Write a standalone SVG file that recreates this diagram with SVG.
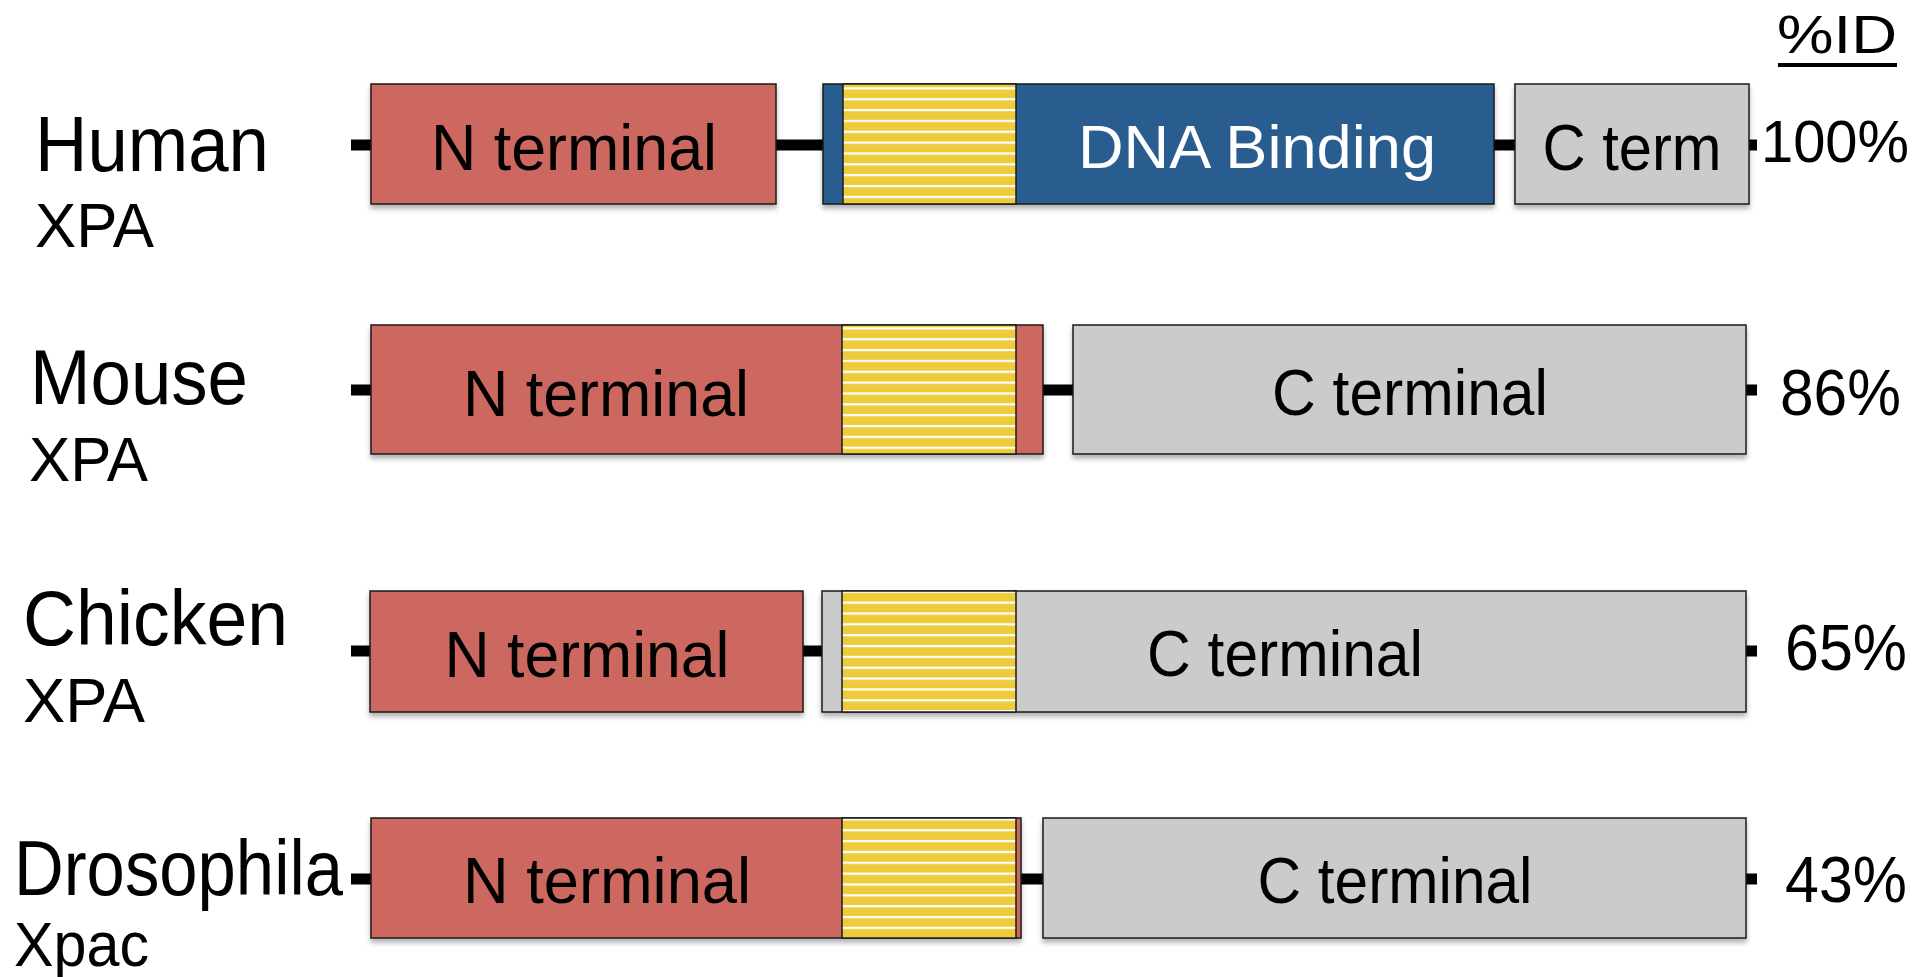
<svg xmlns="http://www.w3.org/2000/svg" width="1920" height="977" viewBox="0 0 1920 977">
<style>
text{font-family:"Liberation Sans",Arial,Helvetica,sans-serif;fill:#000}
.box{stroke:#1a1a1a;stroke-width:1.5}
.red{fill:#CD6761}
.blue{fill:#295D8F}
.gray{fill:#CBCBCB}
.lbl{font-size:65px}
.sp{font-size:77px}
.sub{font-size:63px}
.pct{font-size:64px}
.bb{stroke:#000;stroke-width:11}
</style>
<defs>
<filter id="sh" x="-5%" y="-10%" width="110%" height="130%">
<feDropShadow dx="0" dy="4" stdDeviation="2.5" flood-color="#000" flood-opacity="0.3"/>
</filter>
<pattern id="st1" patternUnits="userSpaceOnUse" x="0" y="87.3" width="20" height="10.85"><rect width="20" height="10.85" fill="#EDCB3B"/><rect width="20" height="2.2" fill="#fff"/></pattern>
<pattern id="st2" patternUnits="userSpaceOnUse" x="0" y="327.3" width="20" height="10.85"><rect width="20" height="10.85" fill="#EDCB3B"/><rect width="20" height="2.2" fill="#fff"/></pattern>
<pattern id="st3" patternUnits="userSpaceOnUse" x="0" y="590.7" width="20" height="10.85"><rect width="20" height="10.85" fill="#EDCB3B"/><rect width="20" height="2.2" fill="#fff"/></pattern>
<pattern id="st4" patternUnits="userSpaceOnUse" x="0" y="818.3" width="20" height="10.85"><rect width="20" height="10.85" fill="#EDCB3B"/><rect width="20" height="2.2" fill="#fff"/></pattern>
</defs>

<g id="connectors">
<line class="bb" x1="351" y1="145" x2="1757" y2="145"/>
<line class="bb" x1="351" y1="390" x2="1757" y2="390"/>
<line class="bb" x1="351" y1="651" x2="1757" y2="651"/>
<line class="bb" x1="351" y1="879" x2="1757" y2="879"/>
</g>

<g id="header">
<text x="1777" y="53" font-size="54" textLength="120" lengthAdjust="spacingAndGlyphs">%ID</text>
<rect x="1778" y="63" width="119" height="4" fill="#000"/>
</g>

<!-- Row 1: Human -->
<g id="human-label">
<text class="sp" x="35" y="171" textLength="234" lengthAdjust="spacingAndGlyphs">Human</text>
<text class="sub" x="35" y="247" textLength="119" lengthAdjust="spacingAndGlyphs">XPA</text>
</g>
<g id="human-nterm">
<rect class="box red" x="371" y="84" width="405" height="120" filter="url(#sh)"/>
<text class="lbl" x="574" y="170" text-anchor="middle" textLength="286" lengthAdjust="spacingAndGlyphs">N terminal</text>
</g>
<g id="human-dna">
<rect class="box blue" x="823" y="84" width="671" height="120" filter="url(#sh)"/>
<rect class="box" x="843" y="84" width="173" height="120" fill="url(#st1)"/>
<text x="1257" y="168" font-size="61" style="fill:#fff" text-anchor="middle" textLength="358" lengthAdjust="spacingAndGlyphs">DNA Binding</text>
</g>
<g id="human-cterm">
<rect class="box gray" x="1515" y="84" width="234" height="120" filter="url(#sh)"/>
<text class="lbl" x="1632" y="170" text-anchor="middle" textLength="179" lengthAdjust="spacingAndGlyphs">C term</text>
</g>
<g id="human-pct">
<text x="1761" y="162" font-size="60" textLength="148" lengthAdjust="spacingAndGlyphs">100%</text>
</g>

<!-- Row 2: Mouse -->
<g id="mouse-label">
<text class="sp" x="30" y="404" textLength="218" lengthAdjust="spacingAndGlyphs">Mouse</text>
<text class="sub" x="29" y="481" textLength="119" lengthAdjust="spacingAndGlyphs">XPA</text>
</g>
<g id="mouse-nterm">
<rect class="box red" x="371" y="325" width="672" height="129" filter="url(#sh)"/>
<rect class="box" x="842" y="325" width="174" height="129" fill="url(#st2)"/>
<text class="lbl" x="606" y="416" text-anchor="middle" textLength="286" lengthAdjust="spacingAndGlyphs">N terminal</text>
</g>
<g id="mouse-cterm">
<rect class="box gray" x="1073" y="325" width="673" height="129" filter="url(#sh)"/>
<text class="lbl" x="1410" y="415" text-anchor="middle" textLength="276" lengthAdjust="spacingAndGlyphs">C terminal</text>
</g>
<g id="mouse-pct">
<text class="pct" x="1780" y="415" textLength="121" lengthAdjust="spacingAndGlyphs">86%</text>
</g>

<!-- Row 3: Chicken -->
<g id="chicken-label">
<text class="sp" x="23" y="645" textLength="265" lengthAdjust="spacingAndGlyphs">Chicken</text>
<text class="sub" x="23" y="722" textLength="122" lengthAdjust="spacingAndGlyphs">XPA</text>
</g>
<g id="chicken-nterm">
<rect class="box red" x="370" y="591" width="433" height="121" filter="url(#sh)"/>
<text class="lbl" x="587" y="677" text-anchor="middle" textLength="285" lengthAdjust="spacingAndGlyphs">N terminal</text>
</g>
<g id="chicken-cterm">
<rect class="box gray" x="822" y="591" width="924" height="121" filter="url(#sh)"/>
<rect class="box" x="842" y="591" width="174" height="121" fill="url(#st3)"/>
<text class="lbl" x="1285" y="676" text-anchor="middle" textLength="276" lengthAdjust="spacingAndGlyphs">C terminal</text>
</g>
<g id="chicken-pct">
<text class="pct" x="1785" y="670" textLength="122" lengthAdjust="spacingAndGlyphs">65%</text>
</g>

<!-- Row 4: Drosophila -->
<g id="drosophila-label">
<text class="sp" x="14" y="895" textLength="329" lengthAdjust="spacingAndGlyphs">Drosophila</text>
<text class="sub" x="14" y="966" textLength="135" lengthAdjust="spacingAndGlyphs">Xpac</text>
</g>
<g id="drosophila-nterm">
<rect class="box red" x="371" y="818" width="650" height="120" filter="url(#sh)"/>
<rect class="box" x="842" y="818" width="174" height="120" fill="url(#st4)"/>
<text class="lbl" x="607" y="903" text-anchor="middle" textLength="288" lengthAdjust="spacingAndGlyphs">N terminal</text>
</g>
<g id="drosophila-cterm">
<rect class="box gray" x="1043" y="818" width="703" height="120" filter="url(#sh)"/>
<text class="lbl" x="1395" y="903" text-anchor="middle" textLength="275" lengthAdjust="spacingAndGlyphs">C terminal</text>
</g>
<g id="drosophila-pct">
<text class="pct" x="1785" y="902" textLength="122" lengthAdjust="spacingAndGlyphs">43%</text>
</g>
</svg>
